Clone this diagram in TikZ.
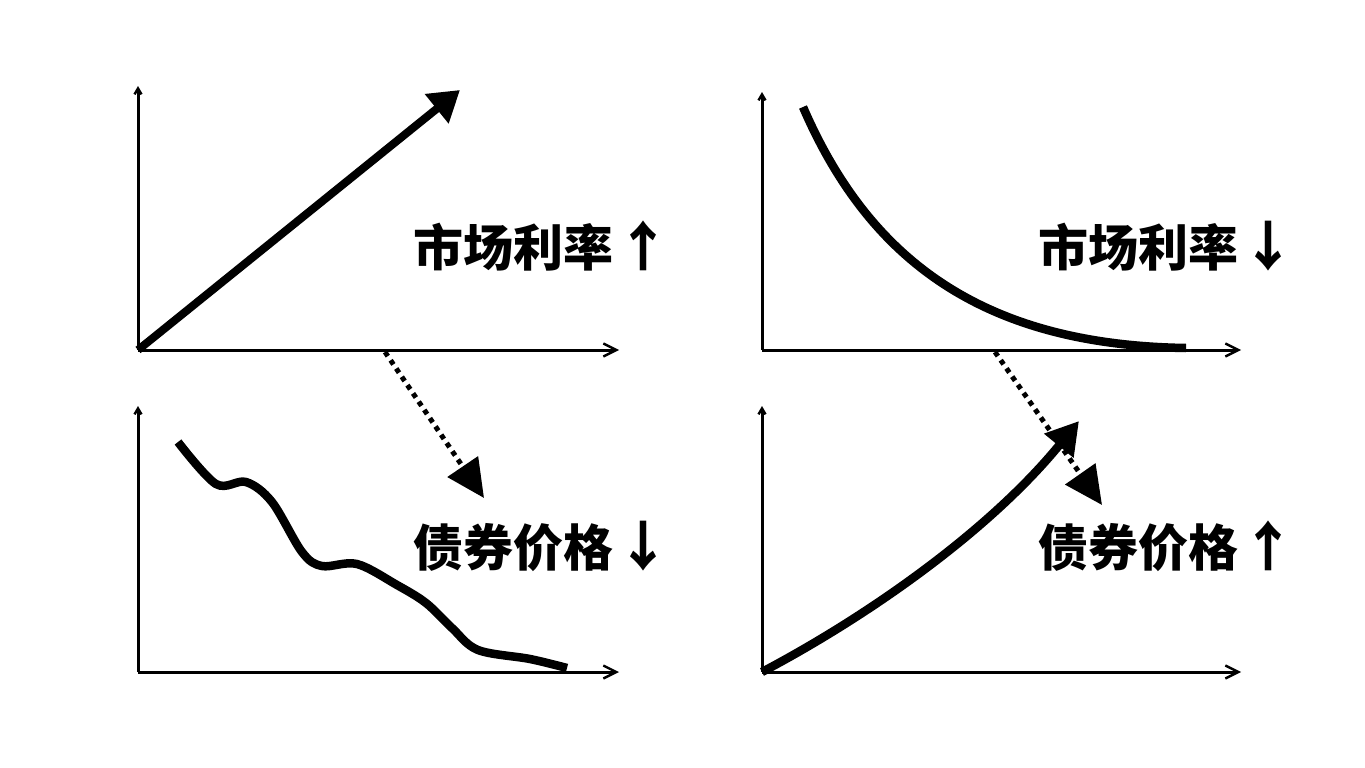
\documentclass[tikz,border=0pt]{standalone}
\usepackage{fontspec}
\newfontfamily\cjk{Noto Sans CJK SC}
\usetikzlibrary{arrows.meta}
\newcommand{\bigarr}[1]{\kern3pt{\fontsize{54}{54}\selectfont #1}}
\tikzset{
  axis/.style={line width=3pt, -{Straight Barb[length=13pt,width=13pt,line width=2.4pt]}},
  yaxis/.style={line width=3pt, -{Straight Barb[length=6pt,width=7pt,line width=2.4pt]}},
  curve/.style={line width=8.5pt, line cap=butt},
  bigarrow/.style={line width=8pt, -{Triangle[length=30pt,width=36pt]}},
  dotarrow/.style={line width=5pt, dash pattern=on 5pt off 5pt, -{Triangle[length=38pt,width=36pt]}},
  lbl/.style={anchor=west, inner sep=0pt, font=\cjk\bfseries\fontsize{50}{50}\selectfont}
}
\begin{document}
\begin{tikzpicture}[x=1pt,y=-1pt]
\useasboundingbox[fill=white] (0,0) rectangle (1365,768);
% origins
\coordinate (o1) at (138,350); \coordinate (o2) at (762,350);
\coordinate (o3) at (138,672); \coordinate (o4) at (762,672);
% axes
\coordinate (y1) at (138,86); \coordinate (x1) at (619,350);
\coordinate (y2) at (762,92); \coordinate (x2) at (1241,350);
\coordinate (y3) at (138,406); \coordinate (x3) at (619,672);
\coordinate (y4) at (762,406); \coordinate (x4) at (1241,672);
\draw[yaxis] (o1) -- (y1); \draw[axis] (o1) -- (x1);
\draw[yaxis] (o2) -- (y2); \draw[axis] (o2) -- (x2);
\draw[yaxis] (o3) -- (y3); \draw[axis] (o3) -- (x3);
\draw[yaxis] (o4) -- (y4); \draw[axis] (o4) -- (x4);
% top-left straight arrow
\coordinate (t1) at (460,90);
\draw[bigarrow] (o1) -- (t1);
% top-right decay
\coordinate (s2) at (803,107); \coordinate (e2) at (1186,348);
\draw[curve] (s2) .. controls (870,262) and (985,345) .. (e2);
% bottom-left wavy
\draw[curve] plot[smooth, tension=0.55] coordinates {(178,442) (216,484) (246,482) (272,502) (302,552) (322,566) (357,564) (397,585) (426,603) (452,628) (478,650) (530,659) (567,668)};
% bottom-right rising arrow
\coordinate (t4) at (1079,421);
\draw[line width=8.5pt, -{Triangle[length=32pt,width=36pt]}] (o4) .. controls (870,615) and (990,530) .. (t4);
% dotted arrows
\coordinate (d1s) at (385,352); \coordinate (d1e) at (484,498);
\coordinate (d2s) at (995,352); \coordinate (d2e) at (1102,505);
\draw[dotarrow] (d1s) -- (d1e);
\draw[dotarrow] (d2s) -- (d2e);
% labels
\node[lbl] (l1) at (413,246) {市场利率\bigarr{↑}};
\node[lbl] (l2) at (1038,246) {市场利率\bigarr{↓}};
\node[lbl] (l3) at (413,546) {债券价格\bigarr{↓}};
\node[lbl] (l4) at (1038,546) {债券价格\bigarr{↑}};
\end{tikzpicture}
\end{document}
